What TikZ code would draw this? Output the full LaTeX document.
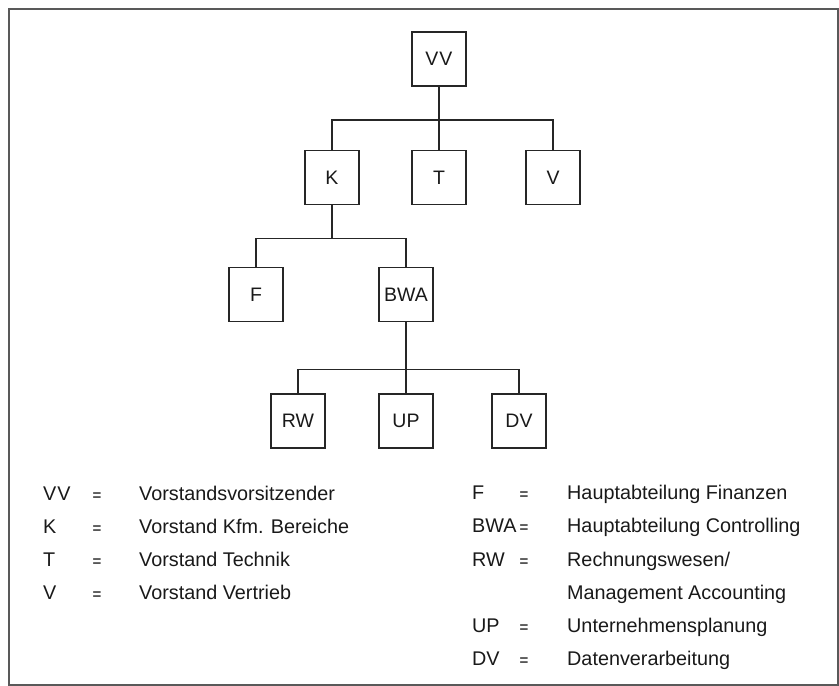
\documentclass[tikz,border=0pt]{standalone}
\usepackage{fontspec}
\setmainfont{Liberation Sans}
\begin{document}
\begin{tikzpicture}[x=1pt,y=-1pt,
  unit/.style={draw=black!85, line width=1.6pt, minimum width=54pt, minimum height=54pt,
    inner sep=0pt, font=\fontsize{19.5}{22}\selectfont, text=black!90},
  link/.style={draw=black!85, line width=1.6pt},
  legend/.style={anchor=base west, inner sep=0pt, font=\fontsize{19.8}{22}\selectfont, text=black!90},
  eqsign/.style={anchor=base, inner sep=0pt, font=\fontsize{15}{22}\selectfont\bfseries, text=black!75}]
\useasboundingbox (0,0) rectangle (839,686);
\draw[black!65, line width=1.8pt] (9,9) rectangle (838,685);

% organisation chart
\node[unit] (VV)  at (439,59)    {V\kern1pt V};
\node[unit] (K)   at (332,177.5) {K};
\node[unit] (T)   at (439,177.5) {T};
\node[unit] (V)   at (553,177.5) {V};
\node[unit] (F)   at (256,294.5) {F};
\node[unit] (BWA) at (406,294.5) {BWA};
\node[unit] (RW)  at (298,421)   {RW};
\node[unit] (UP)  at (406,421)   {UP};
\node[unit] (DV)  at (519,421)   {DV};

\path (VV.south)  ++(0,33) coordinate (j1);
\path (K.south)   ++(0,33) coordinate (j2);
\path (BWA.south) ++(0,47) coordinate (j3);

\draw[link] (VV.south) -- (T.north);
\draw[link] (K.north) |- (j1) -| (V.north);
\draw[link] (K.south) -- (j2);
\draw[link] (F.north) |- (j2) -| (BWA.north);
\draw[link] (BWA.south) -- (UP.north);
\draw[link] (RW.north) |- (j3) -| (DV.north);

% key, left column
\node[legend] (aVV) at (43,500) {V\kern1pt V};
\node[eqsign] (eVV) at (97,500) {=};
\node[legend] (tVV) at (139,500) {Vorstandsvorsitzender};
\node[legend] (aK) at (43,533) {K};
\node[eqsign] (eK) at (97,533) {=};
\node[legend] (tK) at (139,533) {Vorstand Kfm. Bereiche};
\node[legend] (aT) at (43,566) {T};
\node[eqsign] (eT) at (97,566) {=};
\node[legend] (tT) at (139,566) {Vorstand Technik};
\node[legend] (aV) at (43,599) {V};
\node[eqsign] (eV) at (97,599) {=};
\node[legend] (tV) at (139,599) {Vorstand Vertrieb};

% key, right column
\node[legend] (aF) at (472,499) {F};
\node[eqsign] (eF) at (524,499) {=};
\node[legend] (tF) at (567,499) {Hauptabteilung Finanzen};
\node[legend] (aBWA) at (472,532) {BWA};
\node[eqsign] (eBWA) at (524,532) {=};
\node[legend] (tBWA) at (567,532) {Hauptabteilung Controlling};
\node[legend] (aRW) at (472,566) {RW};
\node[eqsign] (eRW) at (524,566) {=};
\node[legend] (tRW) at (567,566) {Rechnungswesen/};
\node[legend] (tRW2) at (567,599) {Management Accounting};
\node[legend] (aUP) at (472,632) {UP};
\node[eqsign] (eUP) at (524,632) {=};
\node[legend] (tUP) at (567,632) {Unternehmensplanung};
\node[legend] (aDV) at (472,665) {DV};
\node[eqsign] (eDV) at (524,665) {=};
\node[legend] (tDV) at (567,665) {Datenverarbeitung};
\end{tikzpicture}
\end{document}
